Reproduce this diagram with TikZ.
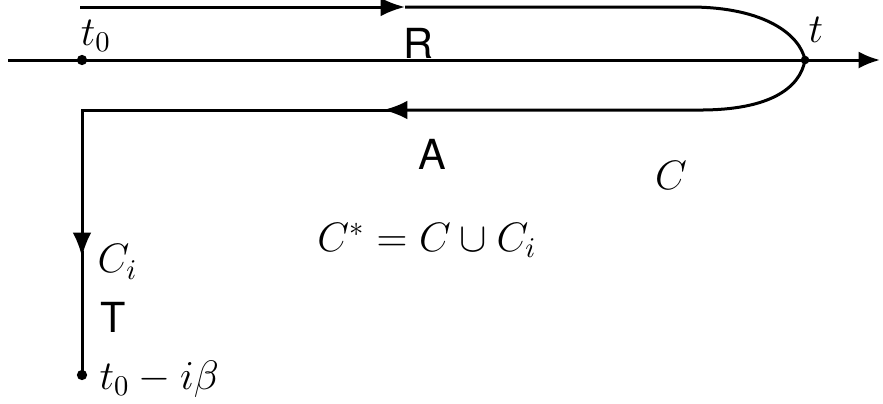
\documentclass[tikz,border=0pt]{standalone}
\usepackage{fontspec}
\newfontfamily\helv{TeX Gyre Heros}
\usetikzlibrary{arrows.meta}
\begin{document}
\begin{tikzpicture}[x=0.35pt,y=-0.35pt,
  line width=1.05pt,
  tip/.style={-{Latex[length=8.5pt,width=6.5pt]}},
  dotmark/.style={circle,fill=black,inner sep=0pt,minimum size=3.6pt},
  lab/.style={inner sep=0pt,font=\fontsize{14}{17}\selectfont},
  sflab/.style={inner sep=0pt,font=\helv\fontsize{14.5}{17}\selectfont}]
\useasboundingbox (0,0) rectangle (883,403);
% coordinates
\coordinate (axL) at (8,60);
\coordinate (axR) at (880,60);
\node[dotmark] (t0) at (82,60) {};
\node[dotmark,minimum size=3pt] (t) at (805,60) {};
\coordinate (upS) at (80,7);
\coordinate (upA) at (405,7);
\coordinate (upE) at (690,7);
\coordinate (loE) at (700,110);
\coordinate (loA) at (383,110);
\coordinate (corner) at (82,110);
\coordinate (vA) at (82,257);
\node[dotmark] (tb) at (82,375) {};
% axis
\draw[-{Latex[length=7.5pt,width=6pt]}] (axL) -- (axR);
% upper branch
\draw[tip] (upS) -- (upA);
\draw (upA) -- (upE) .. controls (765,7) and (800,35) .. (t.center);
% lower branch
\draw[tip] (t.center) .. controls (800,88) and (770,110) .. (loE) -- (loA);
\draw[tip] ([xshift=4pt]loA) -- (corner) -- (vA);
\draw ([yshift=2pt]vA) -- (tb.center);
% labels
\node[lab] (lt0) at (96,36) {$t_0$};
\node[lab] (lt) at (816,30) {$t$};
\node[sflab,anchor=base] (lR) at (418,58) {R};
\node[sflab] (lA) at (432,154) {A};
\node[lab] (lC) at (671,175) {$C$};
\node[lab] (lCs) at (427,240) {$C^{*}=C\cup C_i$};
\node[lab,anchor=west] (lCi) at (96,262) {$C_i$};
\node[sflab,anchor=west] (lT) at (99,317) {T};
\node[lab,anchor=west] (lb) at (98,379) {$t_0-i\beta$};
\end{tikzpicture}
\end{document}
